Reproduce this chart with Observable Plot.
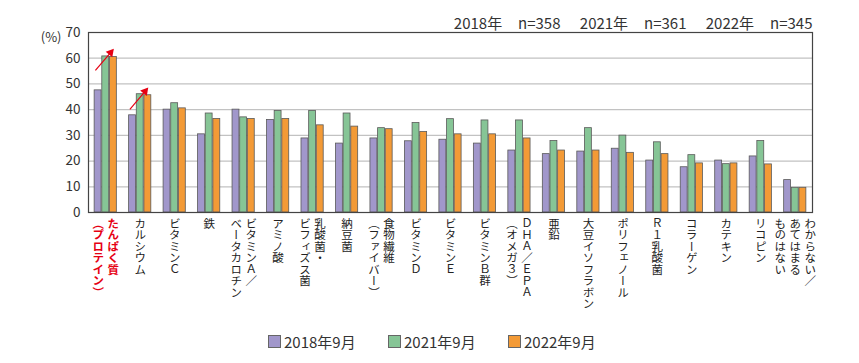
<!DOCTYPE html>
<html><head><meta charset="utf-8">
<script src="https://cdn.jsdelivr.net/npm/d3@7"></script>
<script src="https://cdn.jsdelivr.net/npm/@observablehq/plot@0.6"></script>
<style>
body{margin:0;background:#fff;font-family:"Noto Sans CJK JP",sans-serif;}
#chart svg{display:block;}
g[aria-label="xlabel"] text{writing-mode:vertical-rl;}
#legend{position:relative;height:43px;width:859px;font-family:"Noto Sans CJK JP",sans-serif;font-size:15px;color:#333;}
.item{position:absolute;top:11px;display:flex;align-items:center;height:20px;}
.sw{width:11px;height:11px;border:1px solid #666;margin-right:3px;}
</style></head><body>
<div id="chart"></div>
<div id="legend"></div>
<script>
const categories = ["たんぱく質\n（プロテイン）","カルシウム","ビタミンＣ","鉄","ビタミンＡ／\nベータカロチン","アミノ酸","乳酸菌・\nビフィズス菌","納豆菌","食物繊維\n（ファイバー）","ビタミンＤ","ビタミンＥ","ビタミンＢ群","ＤＨＡ／ＥＰＡ\n（オメガ３）","亜鉛","大豆イソフラボン","ポリフェノール","Ｒ１乳酸菌","コラーゲン","カテキン","リコピン","わからない／\nあてはまる\nものはない"];
const series = ["2018年9月","2021年9月","2022年9月"];
const colors = ["#a197cb","#86c596","#f39a36"];
const v2018 = [47.5,37.8,40.0,30.4,40.0,36.0,28.8,26.8,28.8,27.7,28.3,26.8,24.1,22.7,23.7,24.8,20.2,17.6,20.2,21.8,12.6];
const v2021 = [60.7,46.0,42.5,38.5,37.0,39.5,39.5,38.5,32.8,34.8,36.3,35.8,35.8,27.8,32.8,29.9,27.3,22.3,18.8,27.8,9.6];
const v2022 = [60.5,45.6,40.5,36.4,36.4,36.4,33.9,33.4,32.4,31.3,30.4,30.4,28.8,24.1,24.1,23.2,22.7,19.1,19.1,18.7,9.6];
const yTicks = [0,10,20,30,40,50,60,70];
const topNote = "2018年\u3000\u200An=358\u3000\u200A 2021年\u3000\u200An=361\u3000\u200A 2022年\u3000\u200An=345";
const unitLabel = "(%)";
// annotation arrows: category index, start/end value
const arrowCats = [0,1];
const arrowFrom = [55.3,40.1];
const arrowTo = [62.2,47.1];

const valuesBySeries = [v2018,v2021,v2022];
const offsets = [-0.222,0,0.222];
const half = 0.1;
const rows = [];
categories.forEach((c,i)=>series.forEach((s,k)=>rows.push({i,s,k,value:valuesBySeries[k][i]})));
const labelRows = categories.flatMap((c,i)=>{const L=c.split("\n");const n=L.length;return L.map((t,j)=>({i,t,off:(n-1)/2-j}));});
const colW = 15/34.48;
const arrows = arrowCats.map((c,j)=>({c,y1:arrowFrom[j],y2:arrowTo[j]}));
const red = "#e60012";

const plot = Plot.plot({
  width:859,height:320,
  marginLeft:88,marginRight:47,marginTop:32,marginBottom:108,
  style:{fontFamily:"'Noto Sans CJK JP',sans-serif",fontSize:"13.5px",color:"#333",background:"#fff"},
  x:{domain:[-0.5,categories.length-0.5],axis:null},
  y:{domain:[0,70],ticks:yTicks,tickSize:0,tickPadding:8,label:null},
  color:{domain:series,range:colors},
  marks:[
    Plot.ruleY(yTicks.slice(1,-1),{stroke:"#c2c2c2",strokeWidth:1.2}),
    Plot.rectY(rows,{x1:d=>d.i+offsets[d.k]-half,x2:d=>d.i+offsets[d.k]+half,y:"value",fill:"s",stroke:"#5a5a5a",strokeWidth:0.8}),
    Plot.frame({stroke:"#444",strokeWidth:1.2}),
    Plot.link(arrows,{x1:d=>d.c-0.3,y1:"y1",x2:d=>d.c+0.141,y2:"y2",stroke:red,strokeWidth:1.2}),
    Plot.dot(arrows,{x:d=>d.c+0.141,y:"y2",symbol:"triangle",r:3.2,fill:red,rotate:40.5}),
    Plot.text([unitLabel],{frameAnchor:"top-left",dx:-27,textAnchor:"end",fontSize:13,fill:"#333"}),
    Plot.text([topNote],{frameAnchor:"top-right",dy:-14,textAnchor:"end",fontSize:15,fill:"#333"}),
    Plot.text(labelRows.filter(d=>d.i>0),{x:d=>d.i+d.off*colW,y:()=>0,text:"t",dy:5,textAnchor:"start",lineAnchor:"bottom",fontSize:11.5,fill:"#222",ariaLabel:"xlabel"}),
    Plot.text(labelRows.filter(d=>d.i===0),{x:d=>d.i+d.off*colW,y:()=>0,text:"t",dy:5,textAnchor:"start",lineAnchor:"bottom",fontSize:11.5,fontWeight:"bold",fill:red,ariaLabel:"xlabel"})
  ]
});
let sel = d3.select(plot).selectAll('g[aria-label="xlabel"] text');
if (sel.empty()) sel = d3.select(plot).selectAll('text').filter(function(){return this.closest('g') && (this.closest('g').getAttribute('font-size')==="11.5" || this.getAttribute('font-size')==="11.5");});
sel.attr("writing-mode","tb-rl").style("writing-mode","vertical-rl");
document.getElementById("chart").appendChild(plot);

const lg = d3.select("#legend");
series.forEach((s,k)=>{
  const it = lg.append("div").attr("class","item").style("left",(268+120*k)+"px");
  it.append("div").attr("class","sw").style("background",colors[k]);
  it.append("span").text(s);
});
</script>
</body></html>
